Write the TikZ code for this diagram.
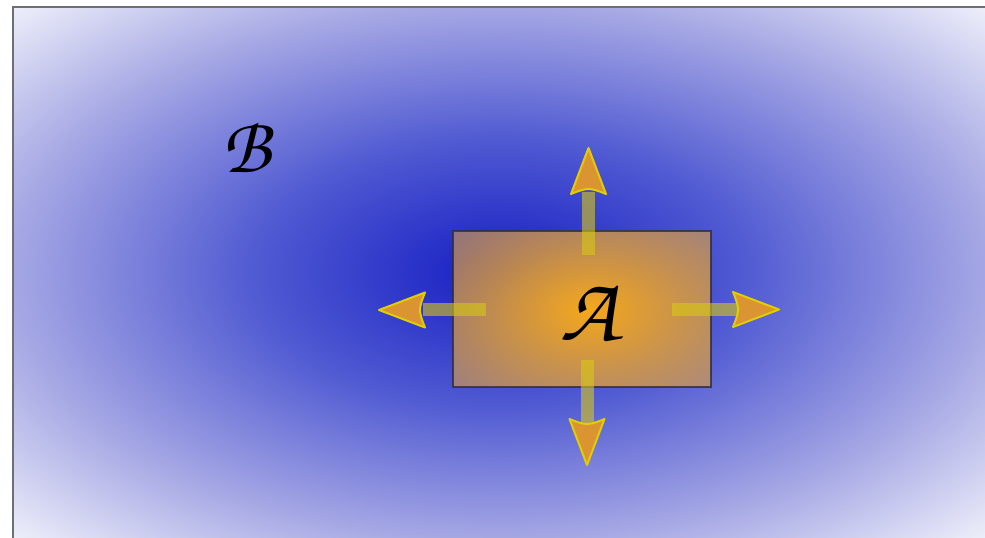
\documentclass[tikz,border=0pt]{standalone}
\usetikzlibrary{fadings}
\definecolor{bg0}{RGB}{22,30,195}
\definecolor{bg1}{RGB}{80,90,210}
\definecolor{bg2}{RGB}{165,167,228}
\definecolor{bg3}{RGB}{238,239,250}
\definecolor{framecol}{RGB}{110,110,115}
\definecolor{boxbase}{RGB}{215,158,80}
\definecolor{boxorange}{RGB}{245,168,28}
\definecolor{boxborder}{RGB}{45,45,55}
\definecolor{shaftyellow}{RGB}{215,200,20}
\definecolor{headorange}{RGB}{218,148,50}
\definecolor{headyellow}{RGB}{225,205,0}
\pgfdeclareradialshading{bgshade}{\pgfpoint{0bp}{0bp}}{color(0bp)=(bg0); color(12.5bp)=(bg1); color(25bp)=(bg2); color(35.4bp)=(bg3); color(50bp)=(white)}
\tikzfading[name=boxfade, inner color=transparent!0, outer color=transparent!100]
\newcommand\chancA{\fontsize{92}{92}\usefont{OT1}{pzc}{mb}{it}}
\newcommand\chancB{\fontsize{80}{80}\usefont{OT1}{pzc}{mb}{it}}
\tikzset{
  shaft/.style={draw=shaftyellow, draw opacity=0.6, line width=13pt},
  headstyle/.style={fill=headorange, draw=headyellow, line width=2pt, line join=round},
  ahead/.pic={\draw[headstyle] (0,0) -- (-46,17.5) .. controls (-42,8) and (-41,3) .. (-41,0) .. controls (-41,-3) and (-42,-8) .. (-46,-17.5) -- cycle;},
  lbl/.style={inner sep=0pt, text=black}
}
\begin{document}
\begin{tikzpicture}[x=1pt,y=1pt]
\useasboundingbox (0,0) rectangle (985,538);
\clip (0,0) rectangle (985,538);
\fill[white] (0,0) rectangle (985,538);
\shade[shading=bgshade] (13,0) rectangle (985,531);
\draw[framecol, line width=2pt] (13,-30) rectangle (1020,531);
% box A
\node[inner sep=0pt, outer sep=0pt, minimum width=258pt, minimum height=156pt] (boxA) at (582,229) {};
\fill[boxbase, fill opacity=0.6] (boxA.south west) rectangle (boxA.north east);
\begin{scope}
  \clip (boxA.south west) rectangle (boxA.north east);
  \fill[boxorange, path fading=boxfade] (402,110) rectangle (778,346);
\end{scope}
\draw[boxborder, draw opacity=0.8, line width=2.8pt] (boxA.south west) rectangle (boxA.north east);
\node[lbl] (labelA) at (589,226) {\chancA A};
\node[lbl] (labelB) at (246,391) {\chancB B};
% arrows
\coordinate (uS) at (588.5,283); \coordinate (uE) at (588.5,346); \coordinate (uT) at (588.5,390);
\coordinate (dS) at (587,178); \coordinate (dE) at (587,115); \coordinate (dT) at (587,73);
\coordinate (lS) at (486,228); \coordinate (lE) at (423,228); \coordinate (lT) at (379,228);
\coordinate (rS) at (672,228.5); \coordinate (rE) at (737,228.5); \coordinate (rT) at (779,228.5);
\draw[shaft] (uS) -- (uE);
\draw[shaft] (dS) -- (dE);
\draw[shaft] (lS) -- (lE);
\draw[shaft] (rS) -- (rE);
\pic[rotate=90] at (uT) {ahead};
\pic[rotate=-90] at (dT) {ahead};
\pic[rotate=180] at (lT) {ahead};
\pic at (rT) {ahead};
\end{tikzpicture}
\end{document}
